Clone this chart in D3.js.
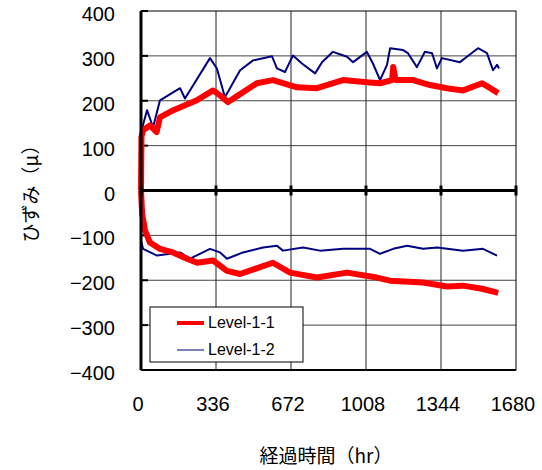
<!DOCTYPE html>
<html>
<head>
<meta charset="utf-8">
<script src="https://cdn.jsdelivr.net/npm/d3@7"></script>
<style>
  body { margin: 0; background: #fff; }
  svg { display: block; }
  text { font-family: "Noto Sans CJK JP", "Noto Sans", sans-serif; fill: #000; }
  text.num { font-family: "Liberation Sans", Arial, sans-serif; }
</style>
</head>
<body>
<div id="chart"></div>
<script>
// [hours, strain] pairs
const level11Upper = [[0, 0], [2, 120], [10, 135], [40, 145], [70, 130], [85, 163], [145, 179],
  [250, 201], [323, 223], [354, 212], [390, 197], [457, 219], [519, 239], [591, 246], [699, 230],
  [788, 228], [905, 246], [1012, 241], [1071, 239], [1125, 246], [1130, 275], [1140, 246],
  [1219, 246], [1295, 235], [1371, 228], [1443, 223], [1528, 239], [1565, 228], [1600, 217]];
const level11Lower = [[0, 0], [5, -51], [18, -89], [40, -116], [85, -130], [143, -138], [206, -152],
  [251, -161], [323, -156], [385, -179], [444, -186], [591, -161], [668, -183], [788, -194],
  [923, -183], [1057, -194], [1115, -201], [1264, -205], [1371, -214], [1443, -212],
  [1528, -219], [1600, -228]];
const level12Upper = [[0, 130], [27, 179], [54, 141], [85, 201], [175, 228], [197, 205], [309, 295],
  [340, 272], [376, 208], [444, 268], [502, 290], [587, 299], [609, 272], [645, 264], [681, 301],
  [721, 283], [780, 261], [811, 286], [860, 309], [923, 298], [950, 286], [1012, 309], [1039, 283],
  [1071, 246], [1102, 280], [1116, 317], [1174, 313], [1196, 306], [1236, 275], [1272, 309],
  [1304, 306], [1326, 272], [1348, 295], [1429, 286], [1460, 298], [1510, 317], [1550, 306],
  [1577, 268], [1595, 280], [1604, 272]];
const level12Lower = [[0, -112], [9, -130], [72, -145], [175, -138], [220, -152], [309, -130],
  [354, -138], [385, -152], [457, -138], [547, -127], [609, -123], [636, -134], [726, -127],
  [802, -134], [905, -130], [1026, -130], [1071, -141], [1130, -130], [1192, -123], [1264, -130],
  [1327, -127], [1443, -134], [1532, -130], [1595, -145]];

const xTicks = [0, 336, 672, 1008, 1344, 1680];
const yTicks = [-400, -300, -200, -100, 0, 100, 200, 300, 400];
const legendNames = ['Level-1-1', 'Level-1-2'];

const width = 542;
const height = 470;
const plotLeft = 141;
const plotRight = 516;
const plotTop = 11;
const plotBottom = 370;

const svg = d3.select('#chart')
  .append('svg')
  .attr('width', width)
  .attr('height', height);

const x = d3.scaleLinear().domain([0, 1680]).range([plotLeft, plotRight]);
const y = d3.scaleLinear().domain([-400, 400]).range([plotBottom, plotTop]);

// gridlines
svg.append('g')
  .selectAll('line')
  .data(yTicks.filter(d => d !== 0 && d !== 400 && d !== -400))
  .enter()
  .append('line')
  .attr('x1', plotLeft).attr('x2', plotRight)
  .attr('y1', d => y(d)).attr('y2', d => y(d))
  .attr('stroke', '#444').attr('stroke-width', 1);

svg.append('g')
  .selectAll('line')
  .data(xTicks.slice(1, -1))
  .enter()
  .append('line')
  .attr('x1', d => x(d)).attr('x2', d => x(d))
  .attr('y1', plotTop).attr('y2', plotBottom)
  .attr('stroke', '#222').attr('stroke-width', 1);

// frame
svg.append('rect')
  .attr('x', plotLeft).attr('y', plotTop)
  .attr('width', plotRight - plotLeft).attr('height', plotBottom - plotTop)
  .attr('fill', 'none').attr('stroke', '#000').attr('stroke-width', 1);

// y tick marks (inside)
svg.append('g')
  .selectAll('line')
  .data(yTicks)
  .enter()
  .append('line')
  .attr('x1', plotLeft).attr('x2', plotLeft + 7)
  .attr('y1', d => y(d)).attr('y2', d => y(d))
  .attr('stroke', '#000').attr('stroke-width', 2);

// series
const line = d3.line().x(d => x(d[0])).y(d => y(d[1]));

[level12Upper, level12Lower].forEach((s) => {
  svg.append('path').datum(s)
    .attr('d', line)
    .attr('fill', 'none')
    .attr('stroke', '#000080')
    .attr('stroke-width', 2)
    .attr('stroke-linejoin', 'round');
});

[level11Upper, level11Lower].forEach((s) => {
  svg.append('path').datum(s)
    .attr('d', line)
    .attr('fill', 'none')
    .attr('stroke', '#ff0000')
    .attr('stroke-width', 6)
    .attr('stroke-linejoin', 'round');
});

// axes lines
svg.append('line')
  .attr('x1', plotLeft).attr('x2', plotLeft).attr('y1', plotTop).attr('y2', plotBottom)
  .attr('stroke', '#000').attr('stroke-width', 3);
svg.append('line')
  .attr('x1', plotLeft).attr('x2', plotRight).attr('y1', plotBottom).attr('y2', plotBottom)
  .attr('stroke', '#000').attr('stroke-width', 2);
svg.append('line')
  .attr('x1', plotLeft).attr('x2', plotRight).attr('y1', y(0)).attr('y2', y(0))
  .attr('stroke', '#000').attr('stroke-width', 3);

// x tick marks on zero line
svg.append('g')
  .selectAll('line')
  .data(xTicks)
  .enter()
  .append('line')
  .attr('x1', d => x(d)).attr('x2', d => x(d))
  .attr('y1', y(0) - 5).attr('y2', y(0) + 5)
  .attr('stroke', '#000').attr('stroke-width', 3);

// tick labels
svg.append('g')
  .selectAll('text')
  .data(yTicks)
  .enter()
  .append('text')
  .attr('class', 'num')
  .attr('x', 115)
  .attr('y', d => y(d) + 10)
  .attr('text-anchor', 'end')
  .style('font-size', '20px')
  .text(d => (d < 0 ? `\u2212${-d}` : d));

svg.append('g')
  .selectAll('text')
  .data(xTicks)
  .enter()
  .append('text')
  .attr('class', 'num')
  .attr('x', d => x(d) - 3)
  .attr('y', 411)
  .attr('text-anchor', 'middle')
  .style('font-size', '20px')
  .text(d => d);

// axis titles
svg.append('text')
  .attr('x', 326)
  .attr('y', 463)
  .attr('text-anchor', 'middle')
  .style('font-size', '19px')
  .text('経過時間（hr）');

svg.append('text')
  .attr('transform', 'translate(38, 189) rotate(-90)')
  .attr('text-anchor', 'middle')
  .style('font-size', '19px')
  .text('ひずみ（μ）');

// legend
const legend = svg.append('g');
legend.append('rect')
  .attr('x', 150).attr('y', 307)
  .attr('width', 153).attr('height', 55)
  .attr('fill', '#fff').attr('stroke', '#000').attr('stroke-width', 1);

const legendColors = ['#ff0000', '#000080'];
const legendWidths = [4, 1];
legendNames.forEach((name, i) => {
  const ly = 323 + i * 27;
  legend.append('line')
    .attr('x1', 177).attr('x2', 204)
    .attr('y1', ly).attr('y2', ly)
    .attr('stroke', legendColors[i]).attr('stroke-width', legendWidths[i]);
  legend.append('text')
    .attr('class', 'num')
    .attr('x', 208).attr('y', ly + 5)
    .style('font-size', '16px')
    .text(name);
});
</script>
</body>
</html>
